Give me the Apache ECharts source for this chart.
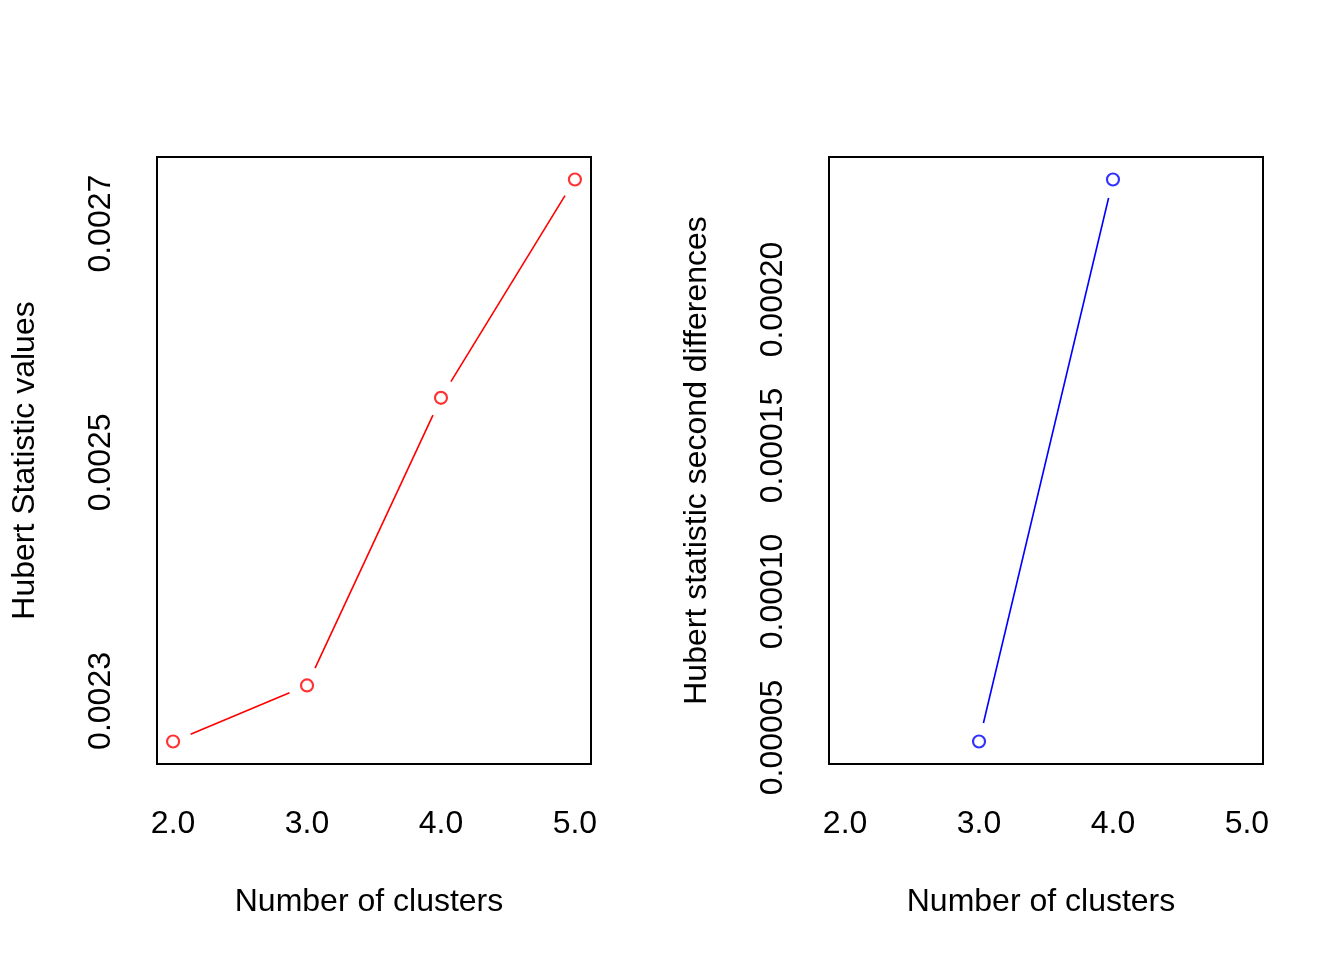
<!DOCTYPE html>
<html>
<head>
<meta charset="utf-8">
<script src="https://cdn.jsdelivr.net/npm/echarts@6/dist/echarts.min.js"></script>
<style>
html,body{margin:0;padding:0;background:#fff;}
#c{width:1344px;height:960px;}
</style>
</head>
<body>
<div id="c"></div>
<script>
// ---- data ----
const clusters = [2, 3, 4, 5];
const hubertValues = [0.002266, 0.002313, 0.002554, 0.002737];
const diffClusters = [3, 4];
const hubertDiffs = [0.0000486, 0.0002411];
const xTicks = [2, 3, 4, 5];
const leftYTicks = [0.0023, 0.0025, 0.0027];
const rightYTicks = [0.00005, 0.00010, 0.00015, 0.00020];

const FONT = 'Liberation Sans, Arial, sans-serif';
const FS = 32;

function ext(arr) {
  const mn = Math.min(...arr), mx = Math.max(...arr);
  const r = mx - mn;
  return [mn - 0.04 * r, mx + 0.04 * r];
}
const xr = ext(clusters);
const lr = ext(hubertValues);
const rr = ext(hubertDiffs);

function pairs(xs, ys) { return xs.map((x, i) => [x, ys[i]]); }
function segs(xs, ys) {
  const out = [];
  for (let i = 0; i < xs.length - 1; i++) out.push([xs[i], ys[i], xs[i + 1], ys[i + 1]]);
  return out;
}
function segRender(color) {
  return function (params, api) {
    const p1 = api.coord([api.value(0), api.value(1)]);
    const p2 = api.coord([api.value(2), api.value(3)]);
    const dx = p2[0] - p1[0], dy = p2[1] - p1[1];
    const len = Math.sqrt(dx * dx + dy * dy);
    const gap = 19;
    if (len <= 2 * gap) return null;
    const ux = dx / len, uy = dy / len;
    return {
      type: 'line',
      shape: { x1: p1[0] + ux * gap, y1: p1[1] + uy * gap, x2: p2[0] - ux * gap, y2: p2[1] - uy * gap },
      style: { stroke: color, lineWidth: 1.6 }
    };
  };
}

function xAxis(gi) {
  return {
    type: 'value', gridIndex: gi, min: xr[0], max: xr[1],
    name: 'Number of clusters', nameLocation: 'middle', nameGap: 122,
    nameTextStyle: { fontFamily: FONT, fontSize: FS, color: '#000', padding: [0, 10, 0, 0] },
    axisLine: { show: false }, axisTick: { show: false }, splitLine: { show: false },
    axisLabel: { customValues: xTicks, formatter: v => v.toFixed(1), margin: 44,
      fontFamily: FONT, fontSize: FS, color: '#000' }
  };
}
function yAxis(gi, range, ticks, name, dec) {
  return {
    type: 'value', gridIndex: gi, min: range[0], max: range[1],
    name: name, nameLocation: 'middle', nameGap: 116, nameRotate: 90,
    nameTextStyle: { fontFamily: FONT, fontSize: FS, color: '#000' },
    axisLine: { show: false }, axisTick: { show: false }, splitLine: { show: false },
    axisLabel: { customValues: ticks, formatter: v => v.toFixed(dec), rotate: 90, margin: 40,
      fontFamily: FONT, fontSize: FS, color: '#000' }
  };
}

const chart = echarts.init(document.getElementById('c'), null, { renderer: 'canvas' });
chart.setOption({
  backgroundColor: '#fff',
  animation: false,
  grid: [
    { left: 157, top: 157, width: 434, height: 607, show: true, borderColor: '#000', borderWidth: 2, backgroundColor: 'transparent' },
    { left: 829, top: 157, width: 434, height: 607, show: true, borderColor: '#000', borderWidth: 2, backgroundColor: 'transparent' }
  ],
  xAxis: [xAxis(0), xAxis(1)],
  yAxis: [
    yAxis(0, lr, leftYTicks, 'Hubert Statistic values', 4),
    yAxis(1, rr, rightYTicks, 'Hubert statistic second differences', 5)
  ],
  series: [
    { type: 'custom', xAxisIndex: 0, yAxisIndex: 0, data: segs(clusters, hubertValues),
      encode: { x: [0, 2], y: [1, 3] }, renderItem: segRender('#FF0000'), silent: true },
    { type: 'scatter', xAxisIndex: 0, yAxisIndex: 0, data: pairs(clusters, hubertValues),
      symbol: 'circle', symbolSize: 12,
      itemStyle: { color: 'rgba(0,0,0,0)', borderColor: '#FF0000', borderWidth: 2.2 } },
    { type: 'custom', xAxisIndex: 1, yAxisIndex: 1, data: segs(diffClusters, hubertDiffs),
      encode: { x: [0, 2], y: [1, 3] }, renderItem: segRender('#0000FF'), silent: true },
    { type: 'scatter', xAxisIndex: 1, yAxisIndex: 1, data: pairs(diffClusters, hubertDiffs),
      symbol: 'circle', symbolSize: 12,
      itemStyle: { color: 'rgba(0,0,0,0)', borderColor: '#0000FF', borderWidth: 2.2 } }
  ]
});
</script>
</body>
</html>
